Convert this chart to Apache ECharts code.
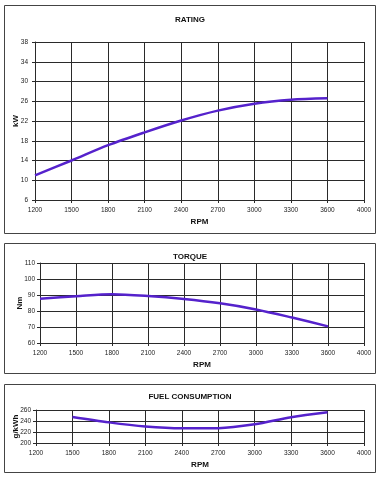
<!DOCTYPE html>
<html><head><meta charset="utf-8">
<script src="https://cdn.jsdelivr.net/npm/echarts@6/dist/echarts.min.js"></script>
<style>html,body{margin:0;padding:0;background:#fff}#c{width:380px;height:478px}</style>
</head><body><div id="c"></div>
<script>
const rpm = ['1200','1500','1800','2100','2400','2700','3000','3300','3600','4000'];
const rating = [11, 14, 17.1, 19.7, 22.1, 24.1, 25.5, 26.3, 26.6, null];
const torque = [87.7, 89.2, 90.5, 89.4, 87.5, 84.8, 81, 75.9, 70.4, null];
const fuel = [null, 247.3, 237.5, 230, 226.7, 227, 234, 247, 256, null];
const ratingTicks = [6, 38, 4];
const torqueTicks = [60, 110, 10];
const fuelTicks = [200, 260, 20];

const font = 'Liberation Sans, Arial, sans-serif';
const lineColor = '#5522cc';
const gridColor = '#2a2a2a';
const grids = [
  {left:35, right:16, top:42, height:158, outerBoundsMode:'none', containLabel:false},
  {left:40, right:16, top:263, height:80, outerBoundsMode:'none', containLabel:false},
  {left:36, right:16, top:410, height:33, outerBoundsMode:'none', containLabel:false}
];
function xAx(i){
  return {type:'category', gridIndex:i, data:rpm, boundaryGap:false,
    name:'RPM', nameLocation:'middle', nameGap:18, nameMoveOverlap:false,
    nameTextStyle:{fontFamily:font, fontSize:8, fontWeight:'bold', color:'#111'},
    axisLine:{lineStyle:{color:gridColor}}, axisTick:{show:true, length:3, lineStyle:{color:gridColor}},
    axisLabel:{fontFamily:font, fontSize:6.5, color:'#222', margin:7, interval:0},
    splitLine:{show:true, interval:0, lineStyle:{color:gridColor, width:1}}};
}
function yAx(i, t, name, gap, margin){
  return {type:'value', gridIndex:i, min:t[0], max:t[1], interval:t[2],
    name:name, nameLocation:'middle', nameGap:gap, nameRotate:90, nameMoveOverlap:false,
    nameTextStyle:{fontFamily:font, fontSize:8, fontWeight:'bold', color:'#111'},
    axisLine:{show:true, lineStyle:{color:gridColor}}, axisTick:{show:true, length:3, lineStyle:{color:gridColor}},
    axisLabel:{fontFamily:font, fontSize:6.5, color:'#222', margin:margin},
    splitLine:{show:true, lineStyle:{color:gridColor, width:1}}};
}
const boxStyle = {fill:'none', stroke:'#444', lineWidth:1};
const chart = echarts.init(document.getElementById('c'));
chart.setOption({
  animation:false,
  title:[
    {text:'RATING', left:'center', top:11, textStyle:{fontFamily:font, fontSize:8, fontWeight:'bold', color:'#111'}},
    {text:'TORQUE', left:'center', top:248, textStyle:{fontFamily:font, fontSize:8, fontWeight:'bold', color:'#111'}},
    {text:'FUEL CONSUMPTION', left:'center', top:388, textStyle:{fontFamily:font, fontSize:8, fontWeight:'bold', color:'#111'}}
  ],
  graphic:[
    {type:'rect', shape:{x:4.5, y:5.5, width:371, height:228}, style:boxStyle, silent:true},
    {type:'rect', shape:{x:4.5, y:243.5, width:371, height:130}, style:boxStyle, silent:true},
    {type:'rect', shape:{x:4.5, y:384.5, width:371, height:88}, style:boxStyle, silent:true}
  ],
  grid:grids,
  xAxis:[xAx(0), xAx(1), xAx(2)],
  yAxis:[yAx(0, ratingTicks, 'kW', 15, 7), yAx(1, torqueTicks, 'Nm', 16, 5), yAx(2, fuelTicks, 'g/kWh', 16, 5)],
  series:[
    {type:'line', xAxisIndex:0, yAxisIndex:0, data:rating, smooth:0.3, showSymbol:false, lineStyle:{color:lineColor, width:2.5}},
    {type:'line', xAxisIndex:1, yAxisIndex:1, data:torque, smooth:0.3, showSymbol:false, lineStyle:{color:lineColor, width:2.5}},
    {type:'line', xAxisIndex:2, yAxisIndex:2, data:fuel, smooth:0.3, showSymbol:false, lineStyle:{color:lineColor, width:2.5}}
  ]
});
</script></body></html>
